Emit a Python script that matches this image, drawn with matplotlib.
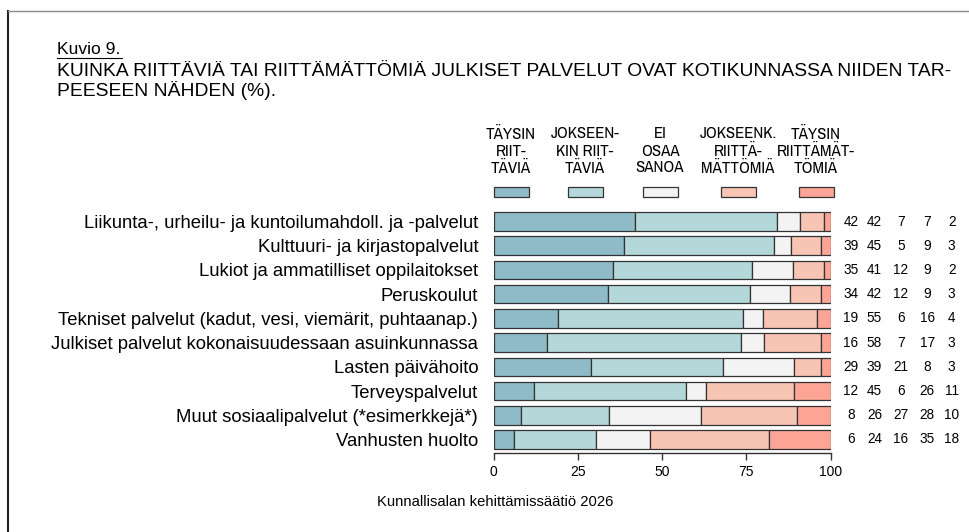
import matplotlib
matplotlib.use("Agg")
import matplotlib.pyplot as plt
from matplotlib.patches import Rectangle
from matplotlib.lines import Line2D
from matplotlib import font_manager as fm
import numpy as np

categories = [
    "Liikunta-, urheilu- ja kuntoilumahdoll. ja -palvelut",
    "Kulttuuri- ja kirjastopalvelut",
    "Lukiot ja ammatilliset oppilaitokset",
    "Peruskoulut",
    "Tekniset palvelut (kadut, vesi, viemärit, puhtaanap.)",
    "Julkiset palvelut kokonaisuudessaan asuinkunnassa",
    "Lasten päivähoito",
    "Terveyspalvelut",
    "Muut sosiaalipalvelut (*esimerkkejä*)",
    "Vanhusten huolto",
]
taysin_riittavia = [42, 39, 35, 34, 19, 16, 29, 12, 8, 6]
jokseenkin_riittavia = [42, 45, 41, 42, 55, 58, 39, 45, 26, 24]
ei_osaa_sanoa = [7, 5, 12, 12, 6, 7, 21, 6, 27, 16]
jokseenk_riittamattomia = [7, 9, 9, 9, 16, 17, 8, 26, 28, 35]
taysin_riittamattomia = [2, 3, 2, 3, 4, 3, 3, 11, 10, 18]

legend_labels = [
    "TÄYSIN\nRIIT-\nTÄVIÄ",
    "JOKSEEN-\nKIN RIIT-\nTÄVIÄ",
    "EI\nOSAA\nSANOA",
    "JOKSEENK.\nRIITTÄ-\nMÄTTÖMIÄ",
    "TÄYSIN\nRIITTÄMÄT-\nTÖMIÄ",
]
x_ticks = [0, 25, 50, 75, 100]
colors = ["#8FBAC7", "#B4D8DA", "#F3F3F3", "#F8C4B4", "#FCA496"]

W, H = 969, 532
fig = plt.figure(figsize=(W / 100, H / 100), dpi=100)
fig.patch.set_facecolor("white")

names = {f.name for f in fm.fontManager.ttflist}
base = "Liberation Sans" if "Liberation Sans" in names else "DejaVu Sans"
plt.rcParams["font.family"] = [base, "DejaVu Sans"]

# look for a condensed / narrow sans face
narrow_fp = None
cands = []
for f in fm.fontManager.ttflist:
    nm = f.name.lower()
    fn = f.fname.lower()
    if f.weight not in (400, "normal", "regular") or f.style != "normal":
        continue
    if "narrow" in nm or "narrow" in fn:
        cands.append((0, f.fname))
    elif ("condensed" in nm or "condensed" in fn or str(f.stretch) == "condensed") and "semi" not in fn and "extra" not in fn:
        pri = 1 if ("liberation" in fn or "arial" in fn or "roboto" in fn) else 2
        cands.append((pri, f.fname))
if cands:
    cands.sort()
    narrow_fp = fm.FontProperties(fname=cands[0][1])


def leg_font(size):
    if narrow_fp is not None:
        p = narrow_fp.copy()
        p.set_size(size + 1.9)
        return p
    return fm.FontProperties(family=[base, "DejaVu Sans"], size=size)


def fx(px):
    return px / W


def fy(py):
    return 1 - py / H


# Frame lines
fig.add_artist(Line2D([fx(8.3), fx(8.3)], [fy(10.5), fy(532)], color="#222222", lw=1.5))
fig.add_artist(Line2D([fx(8.3), fx(969)], [fy(10.5), fy(10.5)], color="#8a8a8a", lw=1.0))

# Titles
fig.text(fx(57), fy(50), "Kuvio 9.", fontsize=12.6, va="center", ha="left")
fig.add_artist(Line2D([fx(57), fx(122)], [fy(58), fy(58)], color="black", lw=0.8))
fig.text(fx(57), fy(71), "KUINKA RIITTÄVIÄ TAI RIITTÄMÄTTÖMIÄ JULKISET PALVELUT OVAT KOTIKUNNASSA NIIDEN TAR-",
         fontsize=13.9, va="center", ha="left")
fig.text(fx(57), fy(91), "PEESEEN NÄHDEN (%).", fontsize=13.9, va="center", ha="left")

# Axes
x0, x1 = 493.5, 830.7
ytop, ybot = 207, 453
ax = fig.add_axes([fx(x0), fy(ybot), fx(x1) - fx(x0), (ybot - ytop) / H])
n = len(categories)
y = np.arange(n)
series = np.array([taysin_riittavia, jokseenkin_riittavia, ei_osaa_sanoa,
                   jokseenk_riittamattomia, taysin_riittamattomia], dtype=float)
totals = series.sum(axis=0)
shares = series / totals * 100
left = np.zeros(n)
for s, c in zip(shares, colors):
    ax.barh(y, s, left=left, height=0.765, color=c, edgecolor="#333333", linewidth=0.9)
    left += s

ax.set_xlim(0, 100)
ax.set_ylim(n - 1 + 0.558, -0.6)
ax.set_yticks(y)
ax.set_yticklabels(categories, fontsize=13.3)
ax.tick_params(axis="y", length=0, pad=11)
ax.set_xticks(x_ticks)
ax.set_xticklabels([str(t) for t in x_ticks], fontsize=10)
ax.tick_params(axis="x", length=5, width=1, direction="out", pad=4, color="#333333")
for sp in ["top", "right", "left"]:
    ax.spines[sp].set_visible(False)
ax.spines["bottom"].set_color("#333333")
ax.spines["bottom"].set_linewidth(1.0)

# Value columns on the right
col_x = [106.0, 113.0, 120.8, 128.6, 135.9]
for j, vals in enumerate(series):
    for i, v in enumerate(vals):
        ax.text(col_x[j], i, f"{int(v)}", fontsize=9.8, family=[base, "DejaVu Sans"],
                ha="center", va="center", clip_on=False)

# Legend
leg_cx = [511, 585, 660, 738, 816]
for cx, lab, c in zip(leg_cx, legend_labels, colors):
    for k, line in enumerate(lab.split("\n")):
        fig.text(fx(cx), fy(134 + 17 * k), line, fontproperties=leg_font(10.3),
                 ha="center", va="center")
    fig.add_artist(Rectangle((fx(cx - 17.5), fy(197)), fx(35), 10 / H,
                             facecolor=c, edgecolor="#333333", linewidth=0.9,
                             transform=fig.transFigure))

# Footer
fig.text(fx(495), fy(502), "Kunnallisalan kehittämissäätiö 2026", fontsize=10.6,
         ha="center", va="center")

fig.savefig("out.png", dpi=100)
